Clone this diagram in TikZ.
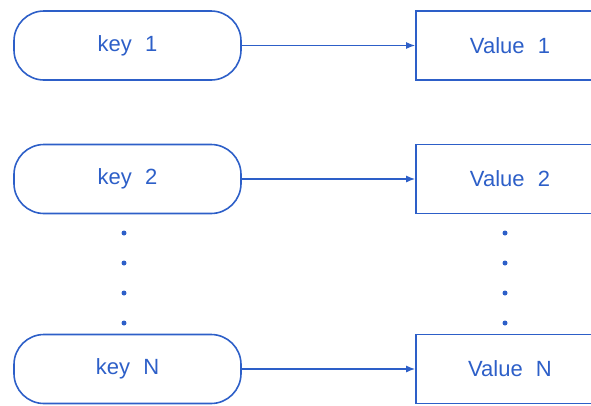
\documentclass[tikz,border=0pt]{standalone}
\usepackage{fontspec}
\setmainfont{Liberation Sans}
\usetikzlibrary{arrows.meta}
\definecolor{ink}{RGB}{45,95,200}
\tikzset{
  keybox/.style={draw=ink, line width=1.6pt, rounded corners=30pt, minimum width=227pt, minimum height=69pt, text=ink, font=\fontsize{22pt}{26pt}\selectfont, inner sep=0pt},
  valbox/.style={draw=ink, line width=1.6pt, minimum width=188pt, minimum height=69pt, text=ink, font=\fontsize{22pt}{26pt}\selectfont, inner sep=0pt},
  conn/.style={draw=ink, line width=1.5pt, -{Latex[length=9pt,width=7pt]}},
  vdot/.style={circle, fill=ink, minimum size=5pt, inner sep=0pt}
}
\begin{document}
\begin{tikzpicture}[x=1pt,y=-1pt]
\useasboundingbox (0,0) rectangle (591,405);
\clip (0,0) rectangle (591,405);
\node[keybox] (k1) at (127.5,45.5) {key\hspace{0.6em}1};
\node[keybox] (k2) at (127.5,179) {key\hspace{0.6em}2};
\node[keybox] (kn) at (127.5,369) {key\hspace{0.6em}N};
\node[valbox] (v1) at (510,45.5) {Value\hspace{0.6em}1};
\node[valbox] (v2) at (510,179) {Value\hspace{0.6em}2};
\node[valbox] (vn) at (510,369) {Value\hspace{0.6em}N};
\draw[conn] (k1) -- (v1);
\draw[conn] (k2) -- (v2);
\draw[conn] (kn) -- (vn);
\foreach \y [count=\i] in {233,263,293,323} {
  \node[vdot] (ld\i) at (124,\y) {};
  \node[vdot] (rd\i) at (505,\y) {};
}
\end{tikzpicture}
\end{document}
